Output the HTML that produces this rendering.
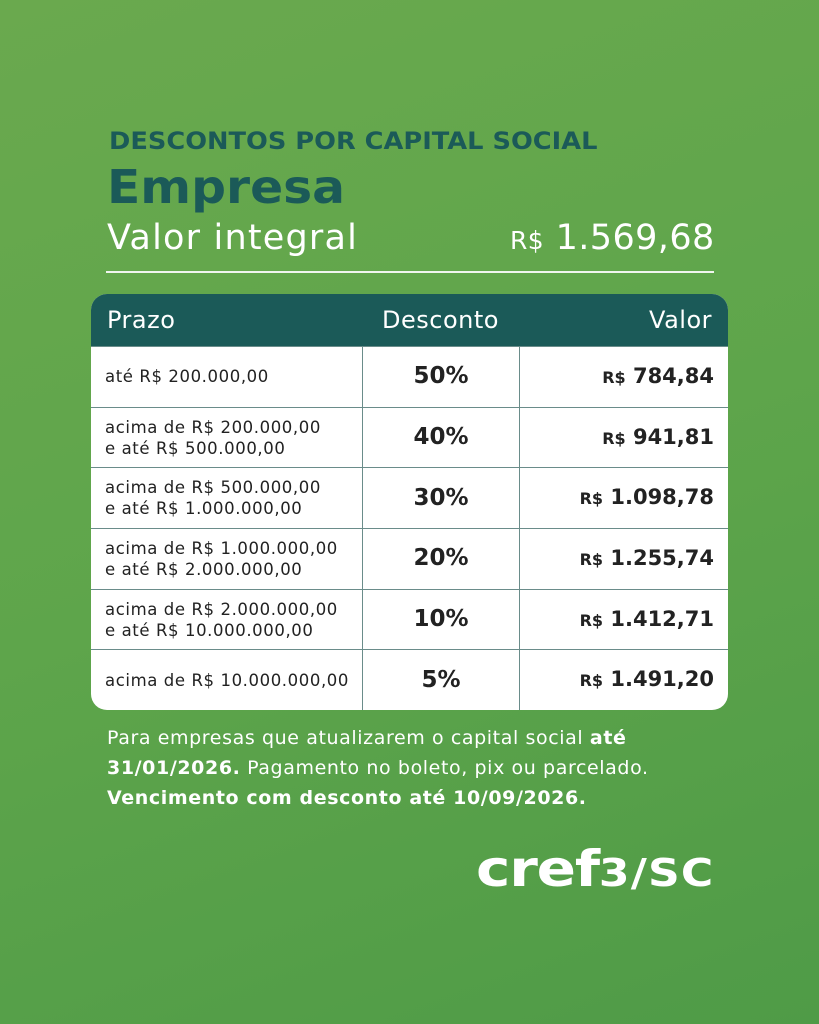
<!DOCTYPE html>
<html><head><meta charset="utf-8"><style>
*{margin:0;padding:0;box-sizing:border-box}
body{width:819px;height:1024px;overflow:hidden;font-family:"DejaVu Sans","Liberation Sans",sans-serif;position:relative;background:linear-gradient(160deg,#6aa94e 0%,#5ea54b 50%,#4f9b47 100%)}
.t{position:absolute;white-space:nowrap;transform-origin:0 0}
table{position:absolute;left:91px;top:294px;width:637px;border-collapse:separate;border-spacing:0;border-radius:16px;overflow:hidden;background:#fff;table-layout:fixed}
th{background:#1b5a58;color:#fff;height:52px;font-size:24px;font-weight:normal;padding:0 16px;letter-spacing:0.5px}
td{height:60.7px;border-top:1px solid #6a8c8a;color:#222;font-size:16.5px;padding:0 14px;line-height:21px;letter-spacing:0.6px;white-space:nowrap}
td.c{border-left:1px solid #6a8c8a;text-align:center;font-size:23px;font-weight:bold;letter-spacing:0}
td.v{border-left:1px solid #6a8c8a;text-align:right;font-size:21px;font-weight:bold;letter-spacing:0}
td.v small{font-size:16px}
</style></head><body>
<div class="t" style="left:109px;top:127px;font-size:24px;font-weight:bold;color:#1b5a58;transform:scaleX(1.07)">DESCONTOS POR CAPITAL SOCIAL</div>
<div class="t" style="left:107px;top:160px;font-size:46px;font-weight:bold;color:#1b5a58;transform:scaleX(1.06)">Empresa</div>
<div class="t" style="left:107px;top:218px;font-size:35px;color:#fff;letter-spacing:1.2px">Valor integral</div>
<div class="t" style="left:510px;top:218px;font-size:35px;color:#fff;letter-spacing:0.4px"><span style="font-size:25px">R$</span> 1.569,68</div>
<div style="position:absolute;left:106px;top:271px;width:608px;height:2px;background:#f0f5ee"></div>
<table>
<colgroup><col style="width:271px"><col style="width:157px"><col></colgroup>
<tr><th style="text-align:left">Prazo</th><th>Desconto</th><th style="text-align:right">Valor</th></tr>
<tr><td>até R$ 200.000,00</td><td class="c">50%</td><td class="v"><small>R$</small> 784,84</td></tr>
<tr><td>acima de R$ 200.000,00<br>e até R$ 500.000,00</td><td class="c">40%</td><td class="v"><small>R$</small> 941,81</td></tr>
<tr><td>acima de R$ 500.000,00<br>e até R$ 1.000.000,00</td><td class="c">30%</td><td class="v"><small>R$</small> 1.098,78</td></tr>
<tr><td>acima de R$ 1.000.000,00<br>e até R$ 2.000.000,00</td><td class="c">20%</td><td class="v"><small>R$</small> 1.255,74</td></tr>
<tr><td>acima de R$ 2.000.000,00<br>e até R$ 10.000.000,00</td><td class="c">10%</td><td class="v"><small>R$</small> 1.412,71</td></tr>
<tr><td>acima de R$ 10.000.000,00</td><td class="c">5%</td><td class="v"><small>R$</small> 1.491,20</td></tr>
</table>
<div class="t" style="left:107px;top:723px;font-size:19px;color:#fff;line-height:30px;letter-spacing:0.6px">Para empresas que atualizarem o capital social <b>até</b><br><b>31/01/2026.</b> Pagamento no boleto, pix ou parcelado.<br><b>Vencimento com desconto até 10/09/2026.</b></div>
<div class="t" style="left:476px;top:840px;font-size:50px;font-weight:bold;color:#fff;letter-spacing:-1px;transform:scaleX(1.16)">cref<span style="font-size:38px;letter-spacing:1px">3/SC</span></div>
</body></html>
